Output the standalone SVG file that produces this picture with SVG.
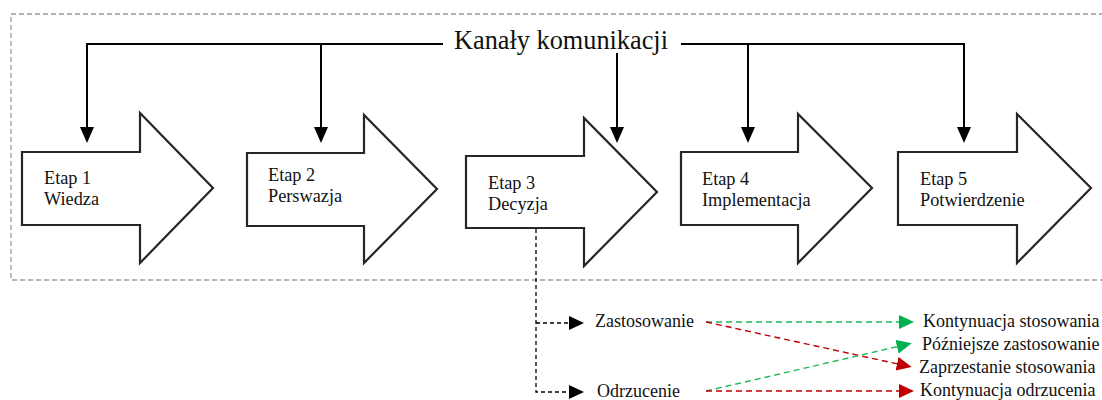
<svg xmlns="http://www.w3.org/2000/svg" width="1102" height="400" viewBox="0 0 1102 400">
  <style>
    .frame { fill: none; stroke: #9a9a9a; stroke-width: 1.3; stroke-dasharray: 5 3; }
    .stage { fill: #ffffff; stroke: #262626; stroke-width: 2.2; stroke-linejoin: miter; }
    .label { font-family: "Liberation Serif", "Times New Roman", serif; font-size: 18.3px; fill: #111111; }
    .title { font-family: "Liberation Serif", "Times New Roman", serif; font-size: 26.3px; fill: #111111; }
    .out { font-family: "Liberation Serif", "Times New Roman", serif; font-size: 18px; fill: #111111; }
    .feed { fill: none; stroke: #000000; stroke-width: 2; }
    .branch { fill: none; stroke: #000000; stroke-width: 1.3; stroke-dasharray: 4 3; }
    .green { fill: none; stroke: #1db954; stroke-width: 1.4; stroke-dasharray: 6 4; }
    .red { fill: none; stroke: #c00000; stroke-width: 1.4; stroke-dasharray: 6 4; }
  </style>
  <defs>
    <marker id="headBlack" markerUnits="userSpaceOnUse" markerWidth="18" markerHeight="16" refX="1" refY="7" orient="auto">
      <path d="M0,0 L16,7 L0,14 Z" fill="#000000"/>
    </marker>
    <marker id="headSmall" markerUnits="userSpaceOnUse" markerWidth="18" markerHeight="16" refX="1" refY="7" orient="auto">
      <path d="M0,0 L15,7 L0,14 Z" fill="#000000"/>
    </marker>
    <marker id="headGreen" markerUnits="userSpaceOnUse" markerWidth="18" markerHeight="16" refX="1" refY="7" orient="auto">
      <path d="M0,0 L15,7 L0,14 Z" fill="#00b050"/>
    </marker>
    <marker id="headRed" markerUnits="userSpaceOnUse" markerWidth="18" markerHeight="16" refX="1" refY="7" orient="auto">
      <path d="M0,0 L15,7 L0,14 Z" fill="#c00000"/>
    </marker>
  </defs>

  <!-- dashed frame around the five stages -->
  <rect class="frame" x="11" y="14" width="1110" height="266"/>

  <!-- stage arrows -->
  <g id="stage1">
    <path class="stage" d="M22,152 H140 V113 L213,188 L140,263 V225 H22 Z"/>
    <text class="label" x="44" y="184">Etap 1</text>
    <text class="label" x="44" y="205">Wiedza</text>
  </g>
  <g id="stage2">
    <path class="stage" d="M247,153 H364 V115 L437,189 L364,263 V226 H247 Z"/>
    <text class="label" x="268" y="181">Etap 2</text>
    <text class="label" x="268" y="202">Perswazja</text>
  </g>
  <g id="stage3">
    <path class="stage" d="M466,156 H584 V118 L657,192 L584,266 V228 H466 Z"/>
    <text class="label" x="488" y="189">Etap 3</text>
    <text class="label" x="488" y="210">Decyzja</text>
  </g>
  <g id="stage4">
    <path class="stage" d="M681,152 H798 V114 L872,188 L798,263 V225 H681 Z"/>
    <text class="label" x="702" y="185">Etap 4</text>
    <text class="label" x="702" y="206">Implementacja</text>
  </g>
  <g id="stage5">
    <path class="stage" d="M898,152 H1017 V114 L1091,188 L1017,263 V225 H898 Z"/>
    <text class="label" x="920" y="185">Etap 5</text>
    <text class="label" x="920" y="206">Potwierdzenie</text>
  </g>

  <!-- communication channels header -->
  <g id="channels">
    <text class="title" x="454" y="49">Kanały komunikacji</text>
  </g>

  <!-- decision outcomes -->
  <g id="adoption">
    <text class="out" x="595" y="327">Zastosowanie</text>
  </g>
  <g id="rejection">
    <text class="out" x="597" y="397">Odrzucenie</text>
  </g>
  <g id="continued-adoption">
    <text class="out" x="923" y="327">Kontynuacja stosowania</text>
  </g>
  <g id="later-adoption">
    <text class="out" x="922" y="350">Późniejsze zastosowanie</text>
  </g>
  <g id="discontinuance">
    <text class="out" x="919" y="373">Zaprzestanie stosowania</text>
  </g>
  <g id="continued-rejection">
    <text class="out" x="920" y="396">Kontynuacja odrzucenia</text>
  </g>

  <!-- connectors -->
  <g id="connectors">
    <path class="feed" d="M443,44 H87 V128" marker-end="url(#headBlack)"/>
    <path class="feed" d="M321,44 V128" marker-end="url(#headBlack)"/>
    <path class="feed" d="M617,53 V128" marker-end="url(#headBlack)"/>
    <path class="feed" d="M681,44 H964 V128" marker-end="url(#headBlack)"/>
    <path class="feed" d="M748,44 V128" marker-end="url(#headBlack)"/>

    <path class="branch" d="M536,229 V392 H570" marker-end="url(#headSmall)"/>
    <path class="branch" d="M536,323 H570" marker-end="url(#headSmall)"/>

    <path class="green" d="M706,322 H900" marker-end="url(#headGreen)"/>
    <path class="red" d="M706,322 L898,364" marker-end="url(#headRed)"/>
    <path class="green" d="M706,391 L898,346.5" marker-end="url(#headGreen)"/>
    <path class="red" d="M706,391 H900" marker-end="url(#headRed)"/>
  </g>
</svg>
